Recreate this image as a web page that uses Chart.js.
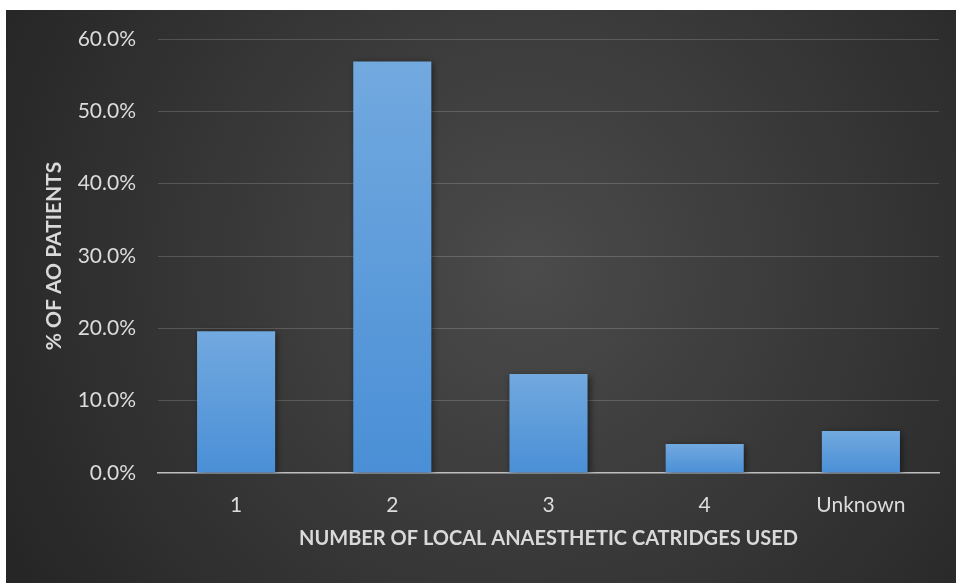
<!DOCTYPE html>
<html>
<head>
<meta charset="utf-8">
<style>
  html, body { margin: 0; padding: 0; background: #ffffff; }
  #wrap { position: absolute; left: 6px; top: 10px; width: 950px; height: 573px; }
  canvas { display: block; }
</style>
<script src="https://cdn.jsdelivr.net/npm/chart.js@4/dist/chart.umd.min.js"></script>
</head>
<body>
<div id="wrap"><canvas id="c" width="950" height="573"></canvas></div>
<script>
// Share of AO patients by number of local anaesthetic cartridges used
const categories = ['1', '2', '3', '4', 'Unknown'];
const percentPatients = [19.6, 56.9, 13.7, 4.0, 5.8];
const yTicks = [0, 10, 20, 30, 40, 50, 60];

const FONT = 'Lato, "Open Sans", sans-serif';

// Dark radial backdrop behind the whole chart
const backdrop = {
  id: 'backdrop',
  beforeDraw(chart) {
    const { ctx, width, height } = chart;
    const g = ctx.createRadialGradient(width * 0.55, height * 0.45, 0, width * 0.55, height * 0.45, width * 0.62);
    g.addColorStop(0, '#4b4b4b');
    g.addColorStop(1, '#262626');
    ctx.save();
    ctx.fillStyle = g;
    ctx.fillRect(0, 0, width, height);
    ctx.restore();
  }
};

// Soft drop shadow under the bars
const barShadow = {
  id: 'barShadow',
  beforeDatasetsDraw(chart) {
    const ctx = chart.ctx;
    ctx.save();
    ctx.shadowColor = 'rgba(0,0,0,0.55)';
    ctx.shadowBlur = 7;
    ctx.shadowOffsetX = 2;
    ctx.shadowOffsetY = 2;
  },
  afterDatasetsDraw(chart) {
    chart.ctx.restore();
  }
};

function barFill(context) {
  const chart = context.chart;
  const y = chart.scales && chart.scales.y;
  if (!chart.chartArea || !y || context.type !== 'data') return '#5b9bd5';
  const top = y.getPixelForValue(context.raw);
  const base = y.getPixelForValue(0);
  if (!isFinite(top) || !isFinite(base) || base - top < 1) return '#5b9bd5';
  const g = chart.ctx.createLinearGradient(0, top, 0, base);
  g.addColorStop(0, '#72a9df');
  g.addColorStop(1, '#4a8fd6');
  return g;
}

new Chart(document.getElementById('c'), {
  type: 'bar',
  data: {
    labels: categories,
    datasets: [{
      data: percentPatients,
      backgroundColor: barFill,
      borderWidth: 0,
      categoryPercentage: 1.0,
      barPercentage: 0.5
    }]
  },
  options: {
    responsive: false,
    animation: false,
    devicePixelRatio: 1,
    layout: { padding: { top: 29, right: 17, left: 36, bottom: 32 } },
    plugins: {
      legend: { display: false },
      tooltip: { enabled: false }
    },
    scales: {
      x: {
        grid: { display: false, drawTicks: false },
        border: { display: true, color: '#bfbfbf', width: 1.5 },
        ticks: {
          color: '#dcdcdc',
          font: { family: FONT, size: 21 },
          padding: 20
        },
        title: {
          display: true,
          text: 'NUMBER OF LOCAL ANAESTHETIC CATRIDGES USED',
          color: '#d9d9d9',
          font: { family: FONT, size: 20, weight: 'bold' },
          padding: { top: 8, bottom: 0 }
        },
        afterFit(scale) { scale.height = 78; }
      },
      y: {
        min: 0,
        max: 60,
        afterBuildTicks(scale) { scale.ticks = yTicks.map(v => ({ value: v })); },
        grid: {
          color: (c) => c.tick && c.tick.value === 0 ? 'rgba(0,0,0,0)' : 'rgba(255,255,255,0.17)',
          lineWidth: 1,
          drawTicks: false
        },
        border: { display: false },
        ticks: {
          color: '#dcdcdc',
          font: { family: FONT, size: 21 },
          padding: 22,
          callback: (v) => Number(v).toFixed(1) + '%'
        },
        title: {
          display: true,
          text: '% OF AO PATIENTS',
          color: '#d9d9d9',
          font: { family: FONT, size: 21, weight: 'bold' },
          padding: { top: 0, bottom: 0 }
        },
        afterFit(scale) {
          scale.width = 116;
          scale.paddingTop = 0;
          scale.paddingBottom = 0;
        }
      }
    }
  },
  plugins: [backdrop, barShadow]
});
</script>
</body>
</html>
